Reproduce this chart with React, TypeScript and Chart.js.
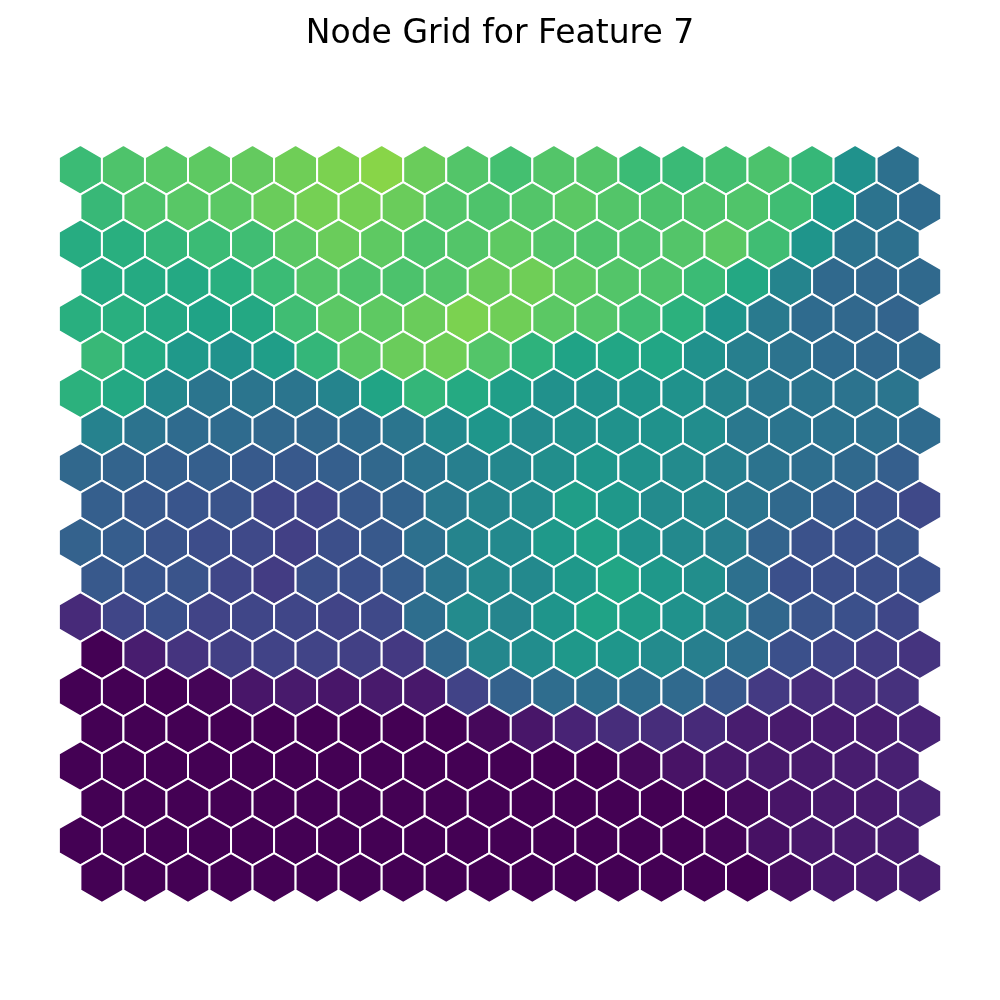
import { useEffect, useRef } from "react";
import { Chart, registerables } from "chart.js";

Chart.register(...registerables);

const chartTitle = "Node Grid for Feature 7";
const gridRows = 20;
const gridCols = 20;

// Colour value (0..1 on the viridis scale) of every node, top row first.
const row00 = [0.68, 0.72, 0.74, 0.75, 0.76, 0.78, 0.80, 0.82, 0.77, 0.73, 0.70, 0.73, 0.73, 0.68, 0.675, 0.70, 0.715, 0.665, 0.51, 0.37];
const row01 = [0.67, 0.72, 0.74, 0.745, 0.77, 0.79, 0.79, 0.77, 0.73, 0.72, 0.73, 0.745, 0.73, 0.715, 0.72, 0.725, 0.69, 0.55, 0.38, 0.35];
const row02 = [0.62, 0.63, 0.66, 0.68, 0.69, 0.745, 0.77, 0.75, 0.72, 0.73, 0.75, 0.73, 0.72, 0.72, 0.73, 0.745, 0.69, 0.52, 0.38, 0.37];
const row03 = [0.61, 0.61, 0.605, 0.63, 0.68, 0.73, 0.72, 0.715, 0.73, 0.77, 0.78, 0.75, 0.73, 0.72, 0.68, 0.60, 0.45, 0.34, 0.335, 0.34];
const row04 = [0.63, 0.63, 0.60, 0.58, 0.60, 0.69, 0.745, 0.75, 0.77, 0.80, 0.78, 0.745, 0.73, 0.69, 0.64, 0.52, 0.41, 0.35, 0.335, 0.32];
const row05 = [0.67, 0.61, 0.54, 0.51, 0.56, 0.66, 0.745, 0.77, 0.78, 0.73, 0.645, 0.58, 0.59, 0.59, 0.505, 0.43, 0.38, 0.35, 0.335, 0.34];
const row06 = [0.64, 0.60, 0.46, 0.39, 0.39, 0.39, 0.45, 0.585, 0.66, 0.61, 0.56, 0.505, 0.51, 0.52, 0.51, 0.45, 0.395, 0.385, 0.38, 0.39];
const row07 = [0.44, 0.38, 0.35, 0.35, 0.335, 0.335, 0.35, 0.39, 0.47, 0.525, 0.48, 0.50, 0.51, 0.51, 0.485, 0.40, 0.385, 0.375, 0.37, 0.35];
const row08 = [0.335, 0.32, 0.30, 0.30, 0.28, 0.275, 0.30, 0.335, 0.38, 0.43, 0.46, 0.49, 0.525, 0.51, 0.48, 0.43, 0.38, 0.36, 0.34, 0.30];
const row09 = [0.30, 0.275, 0.26, 0.255, 0.21, 0.21, 0.275, 0.315, 0.40, 0.45, 0.48, 0.56, 0.535, 0.48, 0.46, 0.39, 0.34, 0.30, 0.25, 0.22];
const row10 = [0.31, 0.29, 0.255, 0.235, 0.22, 0.19, 0.24, 0.275, 0.37, 0.45, 0.47, 0.54, 0.57, 0.51, 0.47, 0.43, 0.32, 0.25, 0.245, 0.255];
const row11 = [0.275, 0.26, 0.255, 0.21, 0.175, 0.24, 0.245, 0.29, 0.39, 0.465, 0.47, 0.535, 0.59, 0.535, 0.49, 0.37, 0.245, 0.24, 0.24, 0.245];
const row12 = [0.12, 0.21, 0.245, 0.205, 0.21, 0.21, 0.205, 0.22, 0.36, 0.48, 0.455, 0.52, 0.58, 0.555, 0.51, 0.45, 0.33, 0.255, 0.245, 0.215];
const row13 = [0.0, 0.08, 0.15, 0.19, 0.20, 0.205, 0.19, 0.165, 0.335, 0.46, 0.485, 0.535, 0.525, 0.48, 0.43, 0.36, 0.245, 0.21, 0.175, 0.15];
const row14 = [0.0, 0.0, 0.0, 0.01, 0.06, 0.07, 0.06, 0.07, 0.065, 0.20, 0.31, 0.355, 0.37, 0.36, 0.345, 0.275, 0.17, 0.13, 0.13, 0.14];
const row15 = [0.0, 0.0, 0.0, 0.0, 0.0, 0.0, 0.0, 0.0, 0.0, 0.02, 0.06, 0.10, 0.13, 0.13, 0.12, 0.08, 0.075, 0.08, 0.085, 0.10];
const row16 = [0.0, 0.0, 0.0, 0.0, 0.0, 0.0, 0.0, 0.0, 0.0, 0.0, 0.0, 0.0, 0.0, 0.02, 0.05, 0.065, 0.07, 0.075, 0.08, 0.09];
const row17 = [0.0, 0.0, 0.0, 0.0, 0.0, 0.0, 0.0, 0.0, 0.0, 0.0, 0.0, 0.0, 0.0, 0.0, 0.0, 0.025, 0.055, 0.07, 0.075, 0.095];
const row18 = [0.0, 0.0, 0.0, 0.0, 0.0, 0.0, 0.0, 0.0, 0.0, 0.0, 0.0, 0.0, 0.0, 0.0, 0.0, 0.01, 0.045, 0.065, 0.075, 0.08];
const row19 = [0.0, 0.0, 0.0, 0.0, 0.0, 0.0, 0.0, 0.0, 0.0, 0.0, 0.0, 0.0, 0.0, 0.0, 0.0, 0.0, 0.035, 0.065, 0.075, 0.08];

const nodeRows = [row00, row01, row02, row03, row04, row05, row06, row07, row08, row09,
  row10, row11, row12, row13, row14, row15, row16, row17, row18, row19];

const viridisStops = ["#440154", "#481467", "#482576", "#453781", "#404688", "#39568c", "#33638d",
  "#2d708e", "#287d8e", "#238a8d", "#1f968b", "#20a386", "#29af7f", "#3dbc74", "#56c667",
  "#75d054", "#95d840", "#bade28", "#dde318", "#fde725"];

function hexToRgb(h: string): number[] {
  return [parseInt(h.slice(1, 3), 16), parseInt(h.slice(3, 5), 16), parseInt(h.slice(5, 7), 16)];
}

function viridis(t: number): string {
  const v = Math.max(0, Math.min(1, t));
  const p = v * (viridisStops.length - 1);
  const i = Math.min(Math.floor(p), viridisStops.length - 2);
  const f = p - i;
  const a = hexToRgb(viridisStops[i]);
  const b = hexToRgb(viridisStops[i + 1]);
  const c = a.map((x, k) => Math.round(x + (b[k] - x) * f));
  return `rgb(${c[0]},${c[1]},${c[2]})`;
}

// Layout of the plot in pixels (styling only)
const PITCH = 43.04;
const ORIGIN_X = 80.4;
const ORIGIN_Y = 169.7;
const AREA_TOP = 100;
const SIZE = 1000;

const hexPlugin = {
  id: "hexCells",
  afterDatasetsDraw(chart: any) {
    const meta = chart.getDatasetMeta(0);
    const ds = chart.data.datasets[0];
    const xs = chart.scales.x;
    const unit = Math.abs(xs.getPixelForValue(1) - xs.getPixelForValue(0));
    const r = unit / Math.sqrt(3);
    const ctx = chart.ctx;
    ctx.save();
    meta.data.forEach((el: any, i: number) => {
      ctx.beginPath();
      for (let k = 0; k < 6; k++) {
        const a = (Math.PI / 180) * (60 * k - 90);
        const px = el.x + r * Math.cos(a);
        const py = el.y + r * Math.sin(a);
        if (k === 0) ctx.moveTo(px, py); else ctx.lineTo(px, py);
      }
      ctx.closePath();
      ctx.fillStyle = ds.backgroundColor[i];
      ctx.fill();
      ctx.lineWidth = 2;
      ctx.lineJoin = "miter";
      ctx.strokeStyle = "#ffffff";
      ctx.stroke();
    });
    ctx.restore();
  },
};

export default function App() {
  const ref = useRef<HTMLCanvasElement | null>(null);
  useEffect(() => {
    document.body.style.margin = "0";
    const points: { x: number; y: number }[] = [];
    const colors: string[] = [];
    for (let r = 0; r < gridRows; r++) {
      for (let c = 0; c < gridCols; c++) {
        points.push({ x: c + (r % 2 === 1 ? 0.5 : 0), y: (r * Math.sqrt(3)) / 2 });
        colors.push(viridis(nodeRows[r][c]));
      }
    }
    const chart = new Chart(ref.current as HTMLCanvasElement, {
      type: "scatter",
      data: {
        datasets: [
          {
            data: points,
            backgroundColor: colors,
            pointRadius: 0,
            pointHoverRadius: 0,
          },
        ],
      },
      options: {
        animation: false,
        responsive: false,
        events: [],
        layout: { padding: 0 },
        scales: {
          x: {
            type: "linear",
            display: false,
            min: (0 - ORIGIN_X) / PITCH,
            max: (SIZE - ORIGIN_X) / PITCH,
          },
          y: {
            type: "linear",
            display: false,
            reverse: true,
            min: (AREA_TOP - ORIGIN_Y) / PITCH,
            max: (SIZE - ORIGIN_Y) / PITCH,
          },
        },
        plugins: {
          legend: { display: false },
          tooltip: { enabled: false },
          title: {
            display: true,
            text: chartTitle,
            color: "#000000",
            font: { family: "DejaVu Sans", size: 33, weight: "normal", lineHeight: 1.2 },
            padding: { top: 15, bottom: AREA_TOP - 15 - 33 * 1.2 },
          },
        },
      },
      plugins: [hexPlugin],
    } as any);
    return () => chart.destroy();
  }, []);
  return (
    <div style={{ width: SIZE, height: SIZE, background: "#ffffff" }}>
      <canvas ref={ref} width={SIZE} height={SIZE} />
    </div>
  );
}
